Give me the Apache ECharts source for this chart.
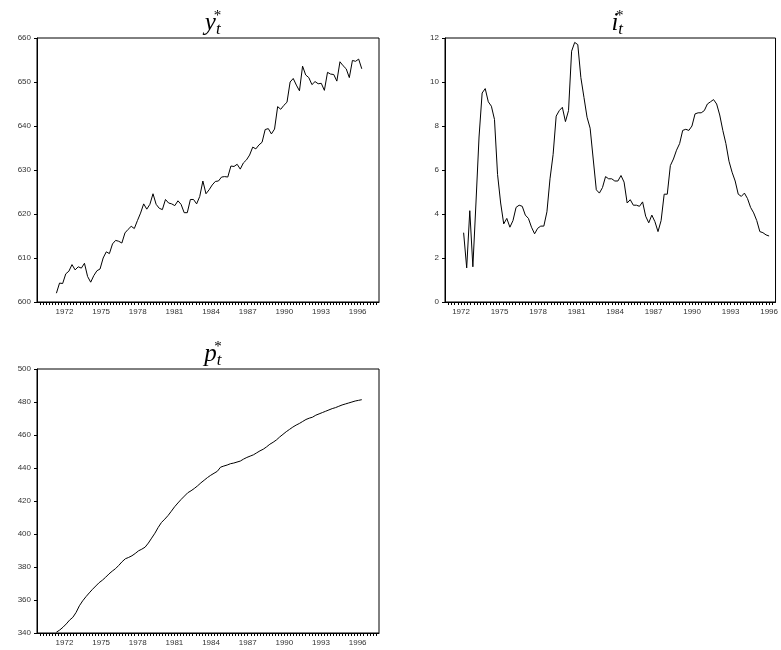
<!DOCTYPE html>
<html><head><meta charset="utf-8">
<script src="https://cdn.jsdelivr.net/npm/echarts@6/dist/echarts.min.js"></script>
<style>html,body{margin:0;background:#fff}#c{width:781px;height:650px}</style>
</head><body><div id="c"></div>
<script>
const yLabelYears = [1972,1975,1978,1981,1984,1987,1990,1993,1996];
const yStar = [602,604.3,604.2,606.4,607,608.5,607.3,608,607.7,608.8,605.8,604.5,606,607.1,607.5,610,611.4,611,613.2,614,613.8,613.4,615.7,616.5,617.2,616.7,618.5,620.2,622.3,621.1,622.2,624.6,622.2,621.3,621,623.3,622.5,622.3,621.9,623,622.2,620.3,620.3,623.3,623.3,622.3,624,627.5,624.6,625.5,626.6,627.4,627.5,628.4,628.5,628.4,630.9,630.8,631.3,630.2,631.6,632.3,633.4,635.2,634.8,635.7,636.3,639.2,639.4,638.2,639.3,644.4,643.8,644.7,645.4,650,650.8,649.3,648,653.6,651.6,651,649.4,650.1,649.6,649.7,648.1,652.2,651.8,651.7,650.2,654.6,653.7,653,651,654.9,654.7,655.2,653];
const iStar = [3.15,1.55,4.15,1.6,4.5,7.5,9.5,9.7,9.1,8.9,8.3,5.8,4.5,3.55,3.8,3.4,3.7,4.3,4.4,4.35,3.95,3.8,3.4,3.1,3.35,3.45,3.45,4.1,5.6,6.7,8.45,8.7,8.85,8.2,8.7,11.4,11.8,11.7,10.2,9.3,8.4,7.9,6.5,5.1,4.95,5.2,5.7,5.6,5.6,5.5,5.5,5.75,5.45,4.5,4.65,4.4,4.4,4.35,4.55,3.9,3.6,3.95,3.65,3.2,3.7,4.9,4.9,6.2,6.5,6.9,7.2,7.8,7.85,7.8,8.0,8.55,8.6,8.6,8.7,9.0,9.1,9.2,9.0,8.5,7.8,7.2,6.4,5.9,5.5,4.9,4.8,4.95,4.7,4.3,4.05,3.7,3.2,3.15,3.05,3.0];
const pStar = [340.5,341.8,343.5,345.5,347.8,349.5,352.5,356.5,359.5,362,364.3,366.5,368.5,370.5,372,373.8,375.8,377.5,379,381,383.2,385,385.8,386.8,388.2,389.8,390.8,392,394.5,397.5,400.5,404,407,409,411.2,413.8,416.5,418.8,421,423,425,426.2,427.6,429.2,431,432.6,434.2,435.6,436.8,438,440.5,441.2,441.8,442.6,443,443.6,444.2,445.4,446.4,447.2,448,449.2,450.4,451.4,452.8,454.4,455.6,457,458.8,460.4,462,463.4,464.8,466,467,468.2,469.4,470.2,470.8,472,472.8,473.6,474.4,475.2,476,476.6,477.4,478.2,478.8,479.4,480,480.6,481,481.4];

function pts(vals, t0, t1){ const s=(t1-t0)/(vals.length-1); return vals.map((v,k)=>[t0+k*s,v]); }

const grids = [
  {left:37, top:38, width:342, height:264},
  {left:445, top:38, width:335, height:264},
  {left:37, top:369, width:342, height:264}
];
const xr = [[1969.75,1997.75],[1970.75,1996.5],[1969.75,1997.75]];
const yr = [[600,660,10],[0,12,2],[340,500,20]];
const data = [pts(yStar,1971.34,1996.34), pts(iStar,1972.2,1996.0), pts(pStar,1971.34,1996.34)];
const names = ['y','i','p'];
const lab = {fontSize:8, color:'#333', fontFamily:'Liberation Sans'};
const opt = {animation:false, grid:[], xAxis:[], yAxis:[], series:[], title:[]};
grids.forEach((g,k)=>{
  opt.grid.push(Object.assign({show:true, borderColor:'#000', borderWidth:1}, g));
  opt.xAxis.push({type:'value', gridIndex:k, min:xr[k][0], max:xr[k][1], interval:0.25,
    axisLine:{lineStyle:{color:'#000'}}, splitLine:{show:false},
    axisTick:{length:3, inside:false, lineStyle:{color:'#000'}},
    axisLabel:Object.assign({margin:6, showMinLabel:false, showMaxLabel:false, formatter:v=>{const r=Math.round(v); return (Math.abs(v-r)<1e-6 && yLabelYears.includes(r))? String(r):'';}}, lab)});
  opt.yAxis.push({type:'value', gridIndex:k, min:yr[k][0], max:yr[k][1], interval:yr[k][2],
    axisLine:{show:true, lineStyle:{color:'#000'}}, splitLine:{show:false},
    axisTick:{show:true, length:3, lineStyle:{color:'#000'}}, axisLabel:Object.assign({margin:6}, lab)});
  opt.series.push({type:'line', xAxisIndex:k, yAxisIndex:k, data:data[k], showSymbol:false, lineStyle:{color:'#000', width:1}});
  opt.title.push({text:'{v|'+names[k]+'}{s|t}{a|*}', left:g.left+g.width/2, top:g.top-34, textAlign:'center',
    textStyle:{fontWeight:'normal', rich:{
      v:{fontFamily:'Liberation Serif', fontStyle:'italic', fontWeight:'normal', fontSize:25, color:'#000'},
      s:{fontFamily:'Liberation Serif', fontStyle:'italic', fontWeight:'normal', fontSize:17, color:'#000', verticalAlign:'bottom', padding:[12,0,0,0]},
      a:{fontFamily:'Liberation Serif', fontWeight:'normal', fontSize:15, color:'#000', verticalAlign:'top', padding:[0,0,10,-7]}
    }}});
});
echarts.init(document.getElementById('c')).setOption(opt);
</script></body></html>
